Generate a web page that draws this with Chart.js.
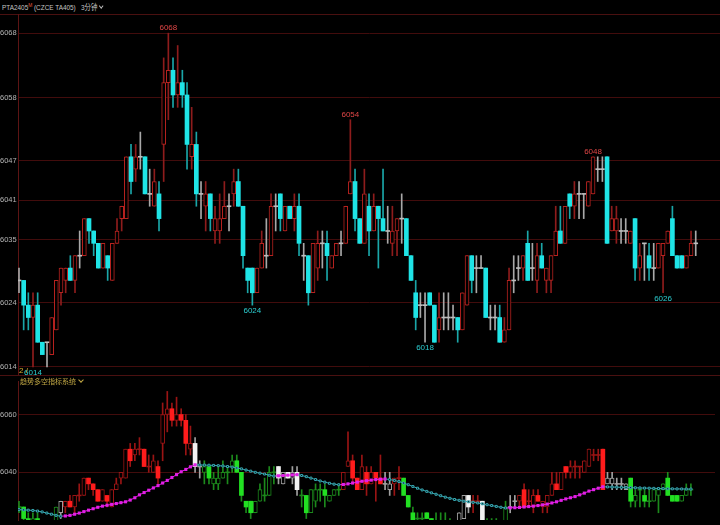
<!DOCTYPE html>
<html>
<head>
<meta charset="utf-8">
<script src="https://cdn.jsdelivr.net/npm/chart.js@4.4.1/dist/chart.umd.min.js"></script>
<style>
body { margin: 0; background: #000; }
#wrap { position: relative; width: 720px; height: 525px; overflow: hidden; background: #000; font-family: "Liberation Sans", "Noto Sans CJK SC", sans-serif; }
canvas { position: absolute; left: 0; }
#cMain { top: 14px; }
#cSub { top: 376px; }
.hl { position: absolute; left: 0; width: 720px; height: 1px; background: #4a1010; }
#title { position: absolute; left: 2px; top: 1px; font-size: 8px; color: #c4c4c4; white-space: nowrap; transform: scaleX(0.8); transform-origin: left top; }
#title sup { color: #e2583c; font-size: 6px; vertical-align: 3px; }
.chev { display: inline-block; width: 3px; height: 3px; border-right: 1px solid currentColor; border-bottom: 1px solid currentColor; transform: rotate(45deg); margin-left: 3px; vertical-align: 2px; }
#subTitle { position: absolute; left: 20px; top: 376px; font-size: 7px; color: #c2a844; font-family: "Noto Sans CJK SC", sans-serif; white-space: nowrap; }
#volTag { position: absolute; left: 19px; top: 366px; font-size: 8px; color: #d8b030; }
</style>
</head>
<body>
<div id="wrap">
  <div id="title">PTA2405<sup>M</sup> (CZCE TA405) &nbsp; 3分钟<span class="chev"></span></div>
  <div class="hl" style="top:14px"></div>
  <canvas id="cMain" width="720" height="361"></canvas>
  <div id="volTag">2 /</div>
  <div class="hl" style="top:375px"></div>
  <canvas id="cSub" width="720" height="149"></canvas>
  <div id="subTitle">趋势多空指标系统<span class="chev"></span></div>
</div>
<script>
// 3分钟K线 (开 高 低 收)
const openP = [
  6028,6028,6024,6022,6024,6018,6018,6016,6020,6026,
  6028,6030,6028,6032,6032,6038,6036,6034,6030,6032,
  6028,6034,6038,6038,6048,6046,6048,6048,6042,6040,
  6042,6050,6060,6062,6058,6060,6058,6048,6050,6042,
  6040,6042,6036,6036,6038,6040,6042,6044,6040,6030,
  6030,6026,6030,6032,6032,6040,6042,6036,6040,6038,
  6040,6032,6032,6026,6030,6034,6034,6030,6032,6034,
  6034,6042,6044,6038,6034,6040,6036,6040,6038,6036,
  6034,6036,6038,6038,6032,6026,6024,6024,6026,6024,
  6020,6022,6022,6022,6022,6020,6024,6032,6030,6030,
  6030,6022,6022,6022,6018,6020,6028,6030,6030,6034,
  6030,6028,6032,6028,6028,6032,6036,6034,6042,6040,
  6042,6042,6040,6042,6046,6046,6048,6036,6036,6036,
  6036,6034,6038,6030,6034,6032,6030,6030,6032,6034,
  6038,6032,6032,6030,6032,6034
];
const highP = [
  6030,6028,6026,6026,6026,6018,6018,6022,6028,6030,
  6030,6032,6032,6036,6038,6038,6036,6034,6034,6032,
  6034,6038,6040,6048,6050,6050,6052,6048,6046,6046,
  6044,6064,6068,6064,6066,6062,6060,6056,6052,6044,
  6044,6042,6040,6042,6044,6042,6046,6046,6040,6030,
  6030,6030,6036,6038,6042,6042,6042,6040,6040,6042,
  6042,6034,6032,6034,6036,6036,6036,6032,6034,6036,
  6040,6054,6046,6038,6046,6042,6042,6040,6046,6040,
  6040,6038,6042,6038,6032,6028,6026,6026,6026,6024,
  6026,6026,6026,6024,6022,6026,6032,6032,6032,6032,
  6030,6024,6024,6024,6022,6030,6032,6032,6032,6036,
  6034,6034,6034,6030,6032,6040,6040,6040,6042,6044,
  6044,6042,6044,6048,6048,6048,6048,6040,6040,6038,
  6038,6036,6038,6034,6034,6034,6034,6034,6034,6036,
  6040,6032,6032,6032,6036,6036
];
const lowP = [
  6026,6020,6020,6014,6018,6016,6014,6016,6020,6024,
  6026,6028,6026,6030,6032,6034,6032,6030,6030,6028,
  6028,6034,6036,6038,6042,6044,6046,6042,6040,6040,
  6036,6044,6054,6056,6056,6056,6046,6046,6040,6038,
  6036,6036,6034,6034,6038,6036,6040,6040,6030,6026,
  6024,6026,6030,6030,6032,6036,6036,6036,6038,6036,
  6032,6028,6024,6026,6028,6030,6028,6030,6032,6032,
  6034,6042,6036,6034,6034,6032,6036,6030,6036,6034,
  6032,6032,6034,6032,6028,6020,6022,6018,6024,6018,
  6018,6020,6020,6020,6018,6020,6024,6026,6026,6030,
  6022,6020,6020,6018,6018,6020,6026,6028,6028,6028,
  6028,6026,6030,6026,6026,6032,6034,6034,6038,6038,
  6038,6038,6040,6042,6044,6044,6034,6036,6034,6034,
  6034,6034,6028,6028,6028,6028,6028,6030,6026,6034,
  6032,6030,6030,6030,6032,6032
];
const closeP = [
  6028,6024,6022,6024,6018,6016,6018,6022,6028,6030,
  6030,6028,6032,6032,6038,6036,6034,6030,6034,6030,
  6034,6036,6040,6048,6044,6048,6048,6042,6042,6044,
  6038,6060,6062,6058,6060,6058,6050,6050,6042,6042,
  6042,6038,6038,6038,6040,6040,6044,6040,6032,6028,
  6026,6030,6034,6032,6040,6040,6038,6040,6038,6040,
  6034,6032,6026,6034,6034,6034,6032,6032,6034,6034,
  6040,6044,6038,6034,6042,6036,6040,6038,6036,6036,
  6036,6038,6038,6032,6028,6022,6024,6024,6024,6018,
  6022,6022,6022,6022,6020,6026,6032,6028,6030,6030,
  6022,6022,6022,6018,6020,6028,6028,6030,6032,6028,
  6030,6032,6030,6030,6032,6036,6034,6040,6040,6042,
  6042,6042,6044,6048,6046,6046,6034,6038,6038,6036,
  6036,6036,6030,6032,6034,6030,6030,6034,6034,6036,
  6032,6030,6030,6032,6034,6034
];

// 主图刻度 / 副图刻度
const mainTicks = [6014, 6024.4, 6034.6, 6041, 6047.4, 6057.6, 6068];
const subTicks = [6040, 6060];

// 高低点标注
const highMarks = [32, 71, 123];
const lowMarks = [3, 50, 87, 138];

// 趋势线
const trendLine = [
  6027.1,6027.0,6026.9,6026.8,6026.6,6026.3,6025.9,6025.5,6025.1,6024.8,
  6024.9,6025.1,6025.5,6025.9,6026.4,6026.9,6027.4,6027.9,6028.3,6028.6,
  6028.9,6029.2,6029.5,6029.8,6030.4,6031.2,6032.2,6033.0,6033.8,6034.6,
  6035.4,6036.3,6037.2,6038.2,6039.2,6040.2,6041.0,6041.9,6042.6,6042.55,
  6042.5,6042.45,6042.4,6042.3,6042.2,6042.0,6041.8,6041.5,6041.2,6040.8,
  6040.4,6040.0,6039.7,6039.4,6039.0,6038.7,6038.8,6038.9,6039.0,6039.1,
  6039.2,6038.9,6038.5,6038.0,6037.5,6037.0,6036.6,6036.2,6035.9,6035.7,
  6035.8,6036.0,6036.3,6036.6,6036.9,6037.1,6037.3,6037.5,6037.6,6037.7,
  6037.5,6037.2,6036.8,6036.3,6035.7,6035.1,6034.5,6033.9,6033.4,6032.9,
  6032.4,6031.9,6031.4,6031.0,6030.6,6030.3,6030.0,6029.8,6029.6,6029.4,
  6029.1,6028.8,6028.5,6028.2,6027.9,6027.65,6027.7,6027.75,6027.85,6028.0,
  6028.15,6028.3,6028.5,6028.75,6029.0,6029.4,6029.8,6030.3,6030.8,6031.2,
  6031.6,6032.2,6032.8,6033.5,6034.0,6034.5,6035.0,6034.95,6034.9,6034.85,
  6034.8,6034.75,6034.7,6034.65,6034.6,6034.55,6034.5,6034.45,6034.4,6034.35,
  6034.3,6034.28,6034.26,6034.24,6034.22,6034.2
];
// 多空状态: b=多 s=空 n=中性 (连续段)
const stateRuns = [
  ['s',9],['n',1],['b',28],['n',2],['s',16],['n',5],['s',9],['b',9],['n',2],['b',2],
  ['s',12],['n',3],['b',2],['n',1],['s',5],['n',2],['b',19],['n',5],['s',14]
];

const states = [];
stateRuns.forEach(r => { for (let k = 0; k < r[1]; k++) states.push(r[0]); });
const idx = openP.map((v, i) => i);

const UP_RED = '#b8221f', CYAN = '#1fe4e6', DOJI = '#bdbdbd';
const GRID = '#420c0c', AXIS = '#5c1414', LABEL = '#b4b4b4';
const MAGENTA = '#e21ee6', TEAL = '#37a8b2';

function bodyRange(i, half) {
  const o = openP[i], c = closeP[i];
  if (o === c) return [o - half, o + half];
  return [Math.min(o, c), Math.max(o, c)];
}
const kind = i => closeP[i] > openP[i] ? 'up' : (closeP[i] < openP[i] ? 'down' : 'doji');

const xScale = { type: 'linear', min: -0.214, max: 150.2, display: false, offset: false };
function yScale(min, max, ticks) {
  return {
    position: 'left', min: min, max: max,
    afterFit: s => { s.width = 18; s.paddingTop = 0; s.paddingBottom = 0; },
    afterBuildTicks: s => { s.ticks = ticks.map(v => ({ value: v })); },
    ticks: {
      color: LABEL, padding: 1, crossAlign: 'far', autoSkip: false,
      font: { size: 7.5, family: '"Liberation Sans", sans-serif' },
      callback: v => Math.round(v)
    },
    grid: { color: GRID, drawTicks: false, lineWidth: 1 },
    border: { display: true, color: AXIS }
  };
}

const extremeLabels = {
  id: 'extremeLabels',
  afterDatasetsDraw(chart) {
    const ctx = chart.ctx, x = chart.scales.x, y = chart.scales.y;
    ctx.save();
    ctx.font = '8px "Liberation Sans", sans-serif';
    ctx.textAlign = 'center';
    ctx.fillStyle = '#e04646';
    ctx.textBaseline = 'bottom';
    highMarks.forEach(i => ctx.fillText(highP[i], x.getPixelForValue(i), y.getPixelForValue(highP[i]) - 1));
    ctx.fillStyle = '#2ccfd2';
    ctx.textBaseline = 'top';
    lowMarks.forEach(i => ctx.fillText(lowP[i], x.getPixelForValue(i), y.getPixelForValue(lowP[i]) + 2));
    ctx.restore();
  }
};

// 主图
new Chart(document.getElementById('cMain'), {
  type: 'bar',
  data: {
    datasets: [{
      data: idx.map(i => ({ x: i, y: bodyRange(i, 0.08) })),
      backgroundColor: idx.map(i => kind(i) === 'up' ? '#000' : (kind(i) === 'down' ? CYAN : DOJI)),
      borderColor: idx.map(i => UP_RED),
      borderWidth: idx.map(i => kind(i) === 'up' ? 1 : 0),
      borderSkipped: false,
      barThickness: 4,
      grouped: false,
      order: 0
    }, {
      data: idx.map(i => ({ x: i, y: [lowP[i], highP[i]] })),
      backgroundColor: idx.map(i => kind(i) === 'up' ? '#8e1c1c' : (kind(i) === 'down' ? '#1aa6a8' : '#a8a8a8')),
      barThickness: 1,
      grouped: false,
      order: 1
    }]
  },
  options: {
    responsive: false, animation: false, devicePixelRatio: 1,
    layout: { padding: 0 },
    plugins: { legend: { display: false }, tooltip: { enabled: false } },
    scales: { x: xScale, y: yScale(6012.7, 6071.1, mainTicks) }
  },
  plugins: [extremeLabels]
});

// 副图: 趋势多空指标系统
const solidCol = { b: '#ff1c1c', s: '#22e022', n: '#f2f2f2' };
const lineCol = { b: '#9a1414', s: '#1c8a1c', n: '#a0a0a0' };
const rising = i => i > 0 && trendLine[i] > trendLine[i - 1];

new Chart(document.getElementById('cSub'), {
  type: 'bar',
  data: {
    datasets: [{
      type: 'line',
      data: trendLine.map((v, i) => ({ x: i, y: v })),
      borderWidth: 1,
      segment: { borderColor: c => c.p1.parsed.y > c.p0.parsed.y ? MAGENTA : TEAL },
      pointStyle: 'rect',
      pointRadius: idx.map(i => rising(i) ? 2.2 : 1.4),
      pointBackgroundColor: idx.map(i => rising(i) ? MAGENTA : '#000'),
      pointBorderColor: idx.map(i => rising(i) ? MAGENTA : TEAL),
      pointBorderWidth: idx.map(i => rising(i) ? 0 : 1),
      order: -1
    }, {
      data: idx.map(i => ({ x: i, y: bodyRange(i, 0.16) })),
      backgroundColor: idx.map(i => kind(i) === 'down' ? solidCol[states[i]] : (kind(i) === 'up' ? '#000' : lineCol[states[i]])),
      borderColor: idx.map(i => lineCol[states[i]]),
      borderWidth: idx.map(i => kind(i) === 'up' ? 1 : 0),
      borderSkipped: false,
      barThickness: 4,
      grouped: false,
      order: 0
    }, {
      data: idx.map(i => ({ x: i, y: [lowP[i], highP[i]] })),
      backgroundColor: idx.map(i => lineCol[states[i]]),
      barThickness: 1,
      grouped: false,
      order: 1
    }]
  },
  options: {
    responsive: false, animation: false, devicePixelRatio: 1,
    layout: { padding: 0 },
    plugins: { legend: { display: false }, tooltip: { enabled: false } },
    scales: { x: xScale, y: yScale(6023.5, 6071.6, subTicks) }
  }
});
</script>
</body>
</html>
